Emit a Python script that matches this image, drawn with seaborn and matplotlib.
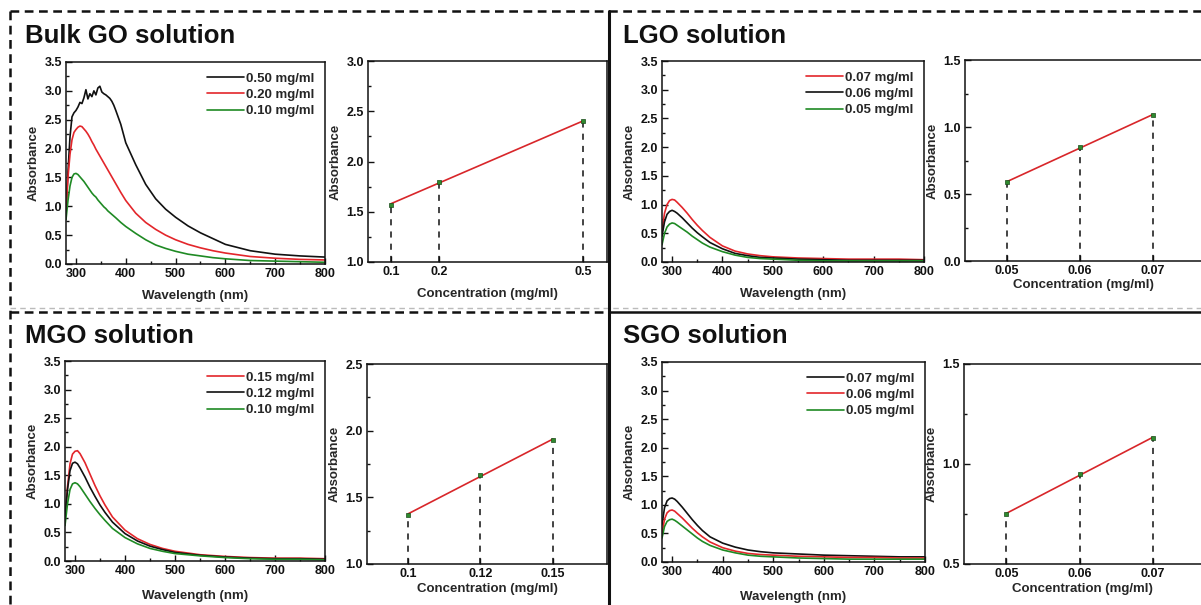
import numpy as np
import pandas as pd
import matplotlib
matplotlib.use("Agg")
import matplotlib.pyplot as plt
from matplotlib.lines import Line2D
from matplotlib.ticker import MultipleLocator
import seaborn as sns

# ---- spectra data ----
wl_bulk = [280, 284, 288, 292, 296, 300, 304, 308, 312, 316, 320, 324, 328, 332, 336,
           340, 344, 348, 352, 356, 360, 364, 368, 372, 376, 380, 390, 400, 420, 440,
           460, 480, 500, 525, 550, 575, 600, 650, 700, 750, 800]
bulk_050 = [0.88, 1.60, 2.20, 2.55, 2.62, 2.66, 2.72, 2.80, 2.78, 2.88, 3.02, 2.86, 2.95, 2.90, 3.00,
            2.93, 3.05, 3.08, 2.98, 2.95, 2.93, 2.90, 2.87, 2.82, 2.75, 2.66, 2.42, 2.10, 1.72, 1.38,
            1.13, 0.95, 0.81, 0.66, 0.54, 0.44, 0.34, 0.23, 0.17, 0.14, 0.12]
bulk_020 = [0.95, 1.50, 1.90, 2.15, 2.28, 2.33, 2.37, 2.39, 2.38, 2.34, 2.30, 2.25, 2.19, 2.12, 2.06,
            1.99, 1.93, 1.87, 1.81, 1.75, 1.69, 1.63, 1.57, 1.51, 1.45, 1.39, 1.24, 1.10, 0.88, 0.72,
            0.60, 0.50, 0.42, 0.34, 0.28, 0.23, 0.19, 0.13, 0.10, 0.08, 0.07]
bulk_010 = [0.77, 1.10, 1.35, 1.50, 1.56, 1.57, 1.55, 1.51, 1.47, 1.43, 1.38, 1.33, 1.28, 1.23, 1.19,
            1.16, 1.11, 1.07, 1.03, 0.99, 0.96, 0.92, 0.89, 0.86, 0.83, 0.80, 0.72, 0.65, 0.53, 0.42,
            0.33, 0.27, 0.22, 0.17, 0.14, 0.11, 0.09, 0.06, 0.05, 0.04, 0.03]

wl = [280, 285, 290, 295, 300, 305, 310, 320, 330, 340, 350, 360, 375, 400, 425, 450,
      475, 500, 550, 600, 650, 700, 750, 800]
lgo_007 = [0.55, 0.85, 1.00, 1.07, 1.09, 1.08, 1.04, 0.95, 0.85, 0.74, 0.64, 0.55, 0.43, 0.28, 0.19, 0.14,
           0.11, 0.09, 0.07, 0.06, 0.05, 0.05, 0.05, 0.04]
lgo_006 = [0.45, 0.70, 0.83, 0.88, 0.90, 0.88, 0.85, 0.77, 0.68, 0.59, 0.51, 0.44, 0.34, 0.23, 0.15, 0.11,
           0.08, 0.07, 0.05, 0.04, 0.03, 0.03, 0.03, 0.03]
lgo_005 = [0.30, 0.50, 0.61, 0.66, 0.68, 0.67, 0.64, 0.58, 0.52, 0.45, 0.39, 0.33, 0.26, 0.18, 0.12, 0.08,
           0.06, 0.05, 0.03, 0.02, 0.02, 0.02, 0.02, 0.02]
mgo_015 = [0.75, 1.30, 1.70, 1.87, 1.92, 1.93, 1.88, 1.72, 1.52, 1.32, 1.14, 0.98, 0.77, 0.54, 0.39, 0.29,
           0.22, 0.17, 0.11, 0.08, 0.06, 0.05, 0.05, 0.04]
mgo_012 = [0.75, 1.25, 1.58, 1.71, 1.73, 1.70, 1.63, 1.47, 1.29, 1.13, 0.98, 0.85, 0.68, 0.48, 0.35, 0.26,
           0.20, 0.15, 0.10, 0.07, 0.05, 0.04, 0.04, 0.03]
mgo_010 = [0.62, 1.00, 1.25, 1.35, 1.37, 1.35, 1.30, 1.17, 1.04, 0.92, 0.81, 0.71, 0.57, 0.41, 0.30, 0.22,
           0.17, 0.13, 0.09, 0.06, 0.04, 0.03, 0.03, 0.02]
sgo_007 = [0.65, 0.95, 1.07, 1.11, 1.12, 1.10, 1.06, 0.96, 0.85, 0.74, 0.64, 0.55, 0.44, 0.33, 0.26, 0.21,
           0.18, 0.16, 0.14, 0.12, 0.11, 0.10, 0.09, 0.09]
sgo_006 = [0.50, 0.75, 0.86, 0.90, 0.91, 0.89, 0.85, 0.77, 0.68, 0.59, 0.51, 0.44, 0.35, 0.25, 0.19, 0.15,
           0.13, 0.12, 0.10, 0.09, 0.08, 0.08, 0.07, 0.07]
sgo_005 = [0.42, 0.62, 0.71, 0.74, 0.75, 0.73, 0.70, 0.63, 0.56, 0.49, 0.42, 0.36, 0.29, 0.21, 0.16, 0.12,
           0.10, 0.09, 0.07, 0.06, 0.05, 0.05, 0.05, 0.05]

# ---- calibration data ----
bulk_conc = [0.1, 0.2, 0.5]
bulk_abs = [1.57, 1.80, 2.40]
lgo_conc = [0.05, 0.06, 0.07]
lgo_abs = [0.59, 0.85, 1.09]
mgo_conc = ["0.1", "0.12", "0.15"]
mgo_abs = [1.37, 1.67, 1.93]
sgo_conc = [0.05, 0.06, 0.07]
sgo_abs = [0.75, 0.95, 1.13]

BLACK = "#111111"
RED = "#e3262b"
GREEN = "#1f8a24"

sns.set_theme(style="ticks")
plt.rcParams["font.family"] = ["Liberation Sans", "DejaVu Sans"]
plt.rcParams["font.weight"] = "bold"
plt.rcParams["axes.labelweight"] = "bold"

W, H = 1201, 605
fig = plt.figure(figsize=(W / 100, H / 100), dpi=100)
fig.patch.set_facecolor("white")


def add_ax(l, t, r, b):
    return fig.add_axes([l / W, 1 - b / H, (r - l) / W, (b - t) / H])


def style_ax(ax):
    for s in ax.spines.values():
        s.set_linewidth(1.1)
        s.set_color("#111111")
    ax.tick_params(which="both", direction="in", top=False, right=False,
                   labelsize=9, width=1, colors="#111111", pad=3)
    ax.tick_params(which="major", length=4)
    ax.tick_params(which="minor", length=2)
    for lab in ax.get_xticklabels() + ax.get_yticklabels():
        lab.set_fontweight("bold")


def spectrum(ax, x, series, labels, colors, labelpad=7):
    frames = []
    for y, lab in zip(series, labels):
        frames.append(pd.DataFrame({"wl": x, "abs": y, "conc": lab}))
    df = pd.concat(frames)
    sns.lineplot(data=df, x="wl", y="abs", hue="conc", hue_order=labels,
                 palette=colors, linewidth=1.2, ax=ax, legend=False, sort=False)
    ax.set_xlim(280, 800)
    ax.set_ylim(0, 3.5)
    ax.xaxis.set_major_locator(MultipleLocator(100))
    ax.xaxis.set_minor_locator(MultipleLocator(50))
    ax.yaxis.set_major_locator(MultipleLocator(0.5))
    ax.yaxis.set_minor_locator(MultipleLocator(0.25))
    ax.set_xlabel("Wavelength (nm)", fontsize=9.5, labelpad=labelpad)
    ax.set_ylabel("Absorbance", fontsize=9.5, labelpad=3)
    handles = [Line2D([], [], color=c, lw=1.2) for c in colors]
    ax.legend(handles, labels, loc="upper right", frameon=False,
              handlelength=2.8, handletextpad=0.15, labelspacing=0.3,
              borderaxespad=0.4, prop={"weight": "bold", "size": 9.5})
    style_ax(ax)


def calibration(ax, conc, absb, ylim, labelpad=7, categorical=False):
    if categorical:
        xs = list(range(len(conc)))
    else:
        xs = conc
    sns.regplot(x=xs, y=absb, ci=None, scatter=False, ax=ax,
                line_kws={"color": "#d8262a", "lw": 1.2})
    ax.vlines(xs, ylim[0], absb, colors=BLACK, linestyles=(0, (4, 4)), lw=1.1)
    sns.scatterplot(x=xs, y=absb, marker="s", s=12, color="#2e8b2e",
                    edgecolor="#1a4a1a", linewidth=0.5, ax=ax, zorder=5)
    ax.set_ylim(*ylim)
    ax.set_xticks(xs)
    if categorical:
        ax.set_xticklabels(conc)
    else:
        ax.set_xticklabels([f"{c:g}" for c in conc])
    ax.yaxis.set_major_locator(MultipleLocator(0.5))
    ax.yaxis.set_minor_locator(MultipleLocator(0.25))
    ax.set_xlabel("Concentration (mg/ml)", fontsize=9.5, labelpad=labelpad)
    ax.set_ylabel("Absorbance", fontsize=9.5, labelpad=3)
    style_ax(ax)


# Bulk GO
ax1 = add_ax(66, 62, 325, 264)
spectrum(ax1, wl_bulk, [bulk_050, bulk_020, bulk_010],
         ["0.50 mg/ml", "0.20 mg/ml", "0.10 mg/ml"], [BLACK, RED, GREEN])
ax2 = add_ax(368, 61, 607, 262)
calibration(ax2, bulk_conc, bulk_abs, (1.0, 3.0))
ax2.set_xlim(0.052, 0.55)

# LGO
ax3 = add_ax(662, 61, 924, 262)
spectrum(ax3, wl, [lgo_007, lgo_006, lgo_005],
         ["0.07 mg/ml", "0.06 mg/ml", "0.05 mg/ml"], [RED, BLACK, GREEN])
ax4 = add_ax(965, 60, 1201, 261)
calibration(ax4, lgo_conc, lgo_abs, (0.0, 1.5), labelpad=1)
ax4.set_xlim(0.0442, 0.0766)
ax4.spines["right"].set_visible(False)

# MGO
ax5 = add_ax(65, 361, 325, 561)
spectrum(ax5, wl, [mgo_015, mgo_012, mgo_010],
         ["0.15 mg/ml", "0.12 mg/ml", "0.10 mg/ml"], [RED, BLACK, GREEN], labelpad=9)
ax6 = add_ax(367, 364, 607, 564)
calibration(ax6, mgo_conc, mgo_abs, (1.0, 2.5), labelpad=2, categorical=True)
ax6.set_xlim(-0.57, 2.75)

# SGO
ax7 = add_ax(662, 362, 925, 562)
spectrum(ax7, wl, [sgo_007, sgo_006, sgo_005],
         ["0.07 mg/ml", "0.06 mg/ml", "0.05 mg/ml"], [BLACK, RED, GREEN], labelpad=9)
ax8 = add_ax(964, 364, 1201, 564)
calibration(ax8, sgo_conc, sgo_abs, (0.5, 1.5), labelpad=2)
ax8.set_xlim(0.0442, 0.0766)
ax8.spines["right"].set_visible(False)

# panel titles
for txt, x, y in [("Bulk GO solution", 25, 43), ("LGO solution", 623, 43),
                  ("MGO solution", 25, 343), ("SGO solution", 623, 343)]:
    fig.text(x / W, 1 - y / H, txt, fontsize=18.5, fontweight="bold",
             ha="left", va="baseline", color="#111111")


# frame lines around the four quadrants
def fig_line(x1, y1, x2, y2, **kw):
    fig.add_artist(Line2D([x1 / W, x2 / W], [1 - y1 / H, 1 - y2 / H],
                          transform=fig.transFigure, **kw))


dash = dict(color=BLACK, lw=1.8, linestyle=(0, (3.5, 2.2)))
fig_line(10, 11, 1201, 11, **dash)
fig_line(10, 11, 10, 605, **dash)
fig_line(10, 308, 1201, 308, color="#bbbbbb", lw=1.0, linestyle=(0, (4, 3)))
fig_line(10, 312, 609, 312, **dash)
fig_line(609, 312, 1201, 312, color=BLACK, lw=1.8)
fig_line(609, 11, 609, 605, color=BLACK, lw=2.2)

fig.savefig("out.png", dpi=100, facecolor="white")
